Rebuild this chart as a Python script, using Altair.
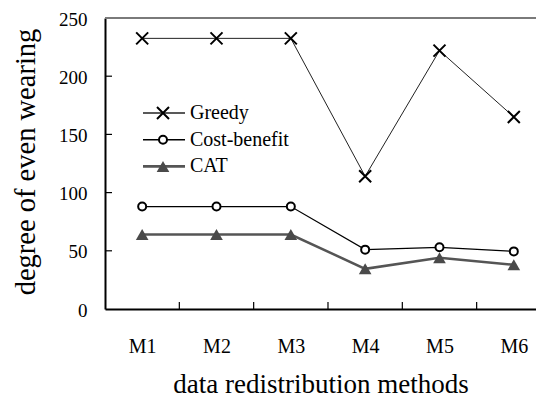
import altair as alt
import pandas as pd

# ---- data ----
categories = ["M1", "M2", "M3", "M4", "M5", "M6"]
greedy = [232.5, 232.5, 232.5, 114, 222, 165]
cost_benefit = [88, 88, 88, 51, 53, 49.5]
cat = [64, 64, 64, 34.5, 44, 38]
series_names = ["Greedy", "Cost-benefit", "CAT"]
y_ticks = [0, 50, 100, 150, 200, 250]

rows = []
for name, vals in zip(series_names, [greedy, cost_benefit, cat]):
    for i, (c, v) in enumerate(zip(categories, vals)):
        rows.append({"series": name, "idx": i + 1, "method": c, "value": v})
df = pd.DataFrame(rows)

# ---- layout / style ----
TOP = 10
W, H = 431, 291
BAND = 74.33
FONT = "Liberation Serif, Times New Roman, serif"
n = len(categories)

styles = {
    "Greedy": dict(line_color="#222222", line_w=1.0,
                   shape="M-1,-1L1,1M-1,1L1,-1", filled=False,
                   stroke="black", fill="transparent", size=144, sw=2),
    "Cost-benefit": dict(line_color="black", line_w=1.2,
                         shape="circle", filled=False,
                         stroke="black", fill="white", size=64, sw=2),
    "CAT": dict(line_color="#555555", line_w=2.5,
                shape="triangle-up", filled=True,
                stroke="#4a4a4a", fill="#4a4a4a", size=160, sw=0),
}

xscale = alt.Scale(domain=[0.5, 0.5 + W / BAND], nice=False, zero=False)
yscale = alt.Scale(domain=[y_ticks[0], y_ticks[-1]], nice=False)

label_expr = "[" + ",".join(f"'{c}'" for c in categories) + "][datum.value-1]"

x_axis = alt.Axis(
    values=list(range(1, n + 1)), labelExpr=label_expr, ticks=False, grid=False,
    domainColor="black", domainWidth=2,
    labelFont=FONT, labelFontSize=20, labelColor="black",
    labelPadding=43, labelBaseline="alphabetic",
    title="data redistribution methods", titleFont=FONT, titleFontSize=27,
    titleFontWeight="normal", titleColor="black", titleY=83,
    titleBaseline="alphabetic",
)
y_axis = alt.Axis(
    values=y_ticks, ticks=False, grid=False,
    domainColor="black", domainWidth=2,
    labelFont=FONT, labelFontSize=19, labelColor="black", labelPadding=18,
    labelOffset=1,
    title="degree of even wearing", titleFont=FONT, titleFontSize=28.5,
    titleFontWeight="normal", titleColor="black",
    titleX=-80, titleY=H / 2 - 2, titleBaseline="middle", titleAlign="center",
    titleAngle=270,
)

layers = []

# top border (gray)
one = pd.DataFrame({"a": [0]})
layers.append(
    alt.Chart(one).mark_rule(color="#7a7a7a", strokeWidth=2).encode(
        x=alt.value(0), x2=alt.value(W), y=alt.value(0)
    )
)

# inward x ticks at category boundaries
bounds = pd.DataFrame({"b": [i + 0.5 for i in range(1, n)]})
layers.append(
    alt.Chart(bounds).mark_rule(color="black", strokeWidth=1.2).encode(
        x=alt.X("b:Q", scale=xscale, axis=x_axis),
        y=alt.value(H), y2=alt.value(H - 7),
    )
)
# inward y ticks
yt = pd.DataFrame({"t": y_ticks[1:-1]})
layers.append(
    alt.Chart(yt).mark_rule(color="black", strokeWidth=1.2).encode(
        y=alt.Y("t:Q", scale=yscale, axis=y_axis),
        x=alt.value(0), x2=alt.value(7),
    )
)

base = alt.Chart(df)
for name in series_names:
    st = styles[name]
    sub = base.transform_filter(alt.datum.series == name)
    enc = dict(
        x=alt.X("idx:Q", scale=xscale, axis=x_axis),
        y=alt.Y("value:Q", scale=yscale, axis=y_axis),
    )
    layers.append(
        sub.mark_line(color=st["line_color"], strokeWidth=st["line_w"]).encode(**enc)
    )
    layers.append(
        sub.mark_point(
            shape=st["shape"], filled=st["filled"], size=st["size"],
            stroke=st["stroke"], fill=st["fill"], strokeWidth=st["sw"], opacity=1,
        ).encode(**enc)
    )

# manual legend
for i, name in enumerate(series_names):
    st = styles[name]
    ly = 99 - (TOP - 6) + i * 26.7
    ldf = pd.DataFrame({"series": [name]})
    lc = alt.Chart(ldf)
    layers.append(
        lc.mark_rule(color=st["line_color"], strokeWidth=st["line_w"] + 0.3).encode(
            x=alt.value(38), x2=alt.value(80), y=alt.value(ly)
        )
    )
    layers.append(
        lc.mark_point(
            shape=st["shape"], filled=st["filled"], size=st["size"],
            stroke=st["stroke"], fill=st["fill"], strokeWidth=st["sw"], opacity=1,
        ).encode(x=alt.value(58), y=alt.value(ly))
    )
    layers.append(
        lc.mark_text(
            align="left", baseline="middle", font=FONT, fontSize=20, color="black"
        ).encode(x=alt.value(85), y=alt.value(ly), text="series:N")
    )

chart = (
    alt.layer(*layers)
    .properties(
        width=W, height=H,
        padding={"left": 97, "top": TOP, "right": 0, "bottom": 89},
        autosize=alt.AutoSizeParams(type="none"),
    )
    .configure_view(strokeWidth=0)
)

chart.save("out.html", embed_options={"renderer": "svg", "actions": False})
